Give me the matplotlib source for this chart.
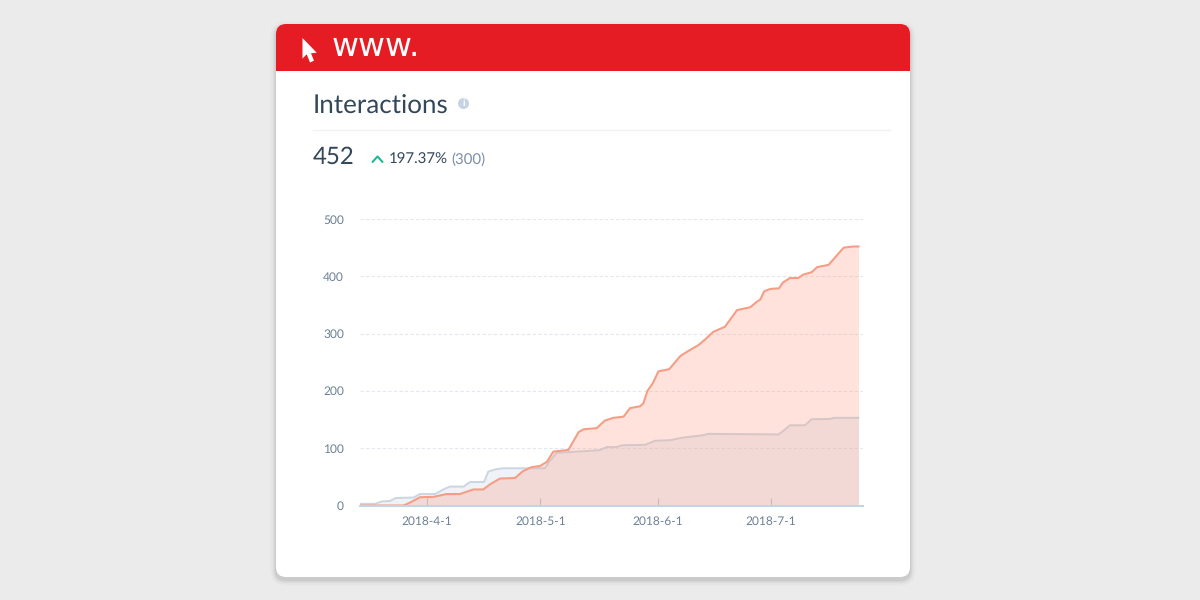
import matplotlib
matplotlib.use('Agg')
import matplotlib.pyplot as plt
from matplotlib.patches import FancyBboxPatch, Polygon, Circle, Rectangle

plt.rcParams['font.family'] = ['Lato', 'DejaVu Sans']
plt.rcParams['text.hinting'] = 'no_hinting'
plt.rcParams['text.hinting_factor'] = 1

# days counted from 2018-4-1
current_days = [-17.7, -6.2, -4.5, -1.8, 1.7, 5.2, 8.7, 12.3, 14.9, 16.7, 19.3, 23.3, 25.4, 27.7, 29.9,
                31.7, 33.4, 37.4, 40.1, 41.4, 44.9, 47.0, 49.3, 52.0, 53.7, 56.3, 57.2, 58.3, 59.7, 61.2,
                64.1, 67.0, 68.7, 71.8, 73.6, 75.7, 78.8, 82.0, 85.5, 87.3, 88.1, 89.2, 90.8, 93.1, 94.1,
                96.0, 98.2, 99.5, 101.7, 103.2, 106.2, 110.2, 112.8, 114.1]
current_vals = [0, 0, 5, 14.5, 15, 20, 20, 28, 28, 37, 47, 48, 60, 67, 69,
                76, 94, 97, 128, 133, 135, 148, 153, 155, 170, 173, 178, 200, 213, 234,
                238, 261, 268, 280, 290, 303, 312, 341, 346, 356, 359, 374, 378, 379, 389,
                397, 397, 403, 407, 416, 420, 450, 452, 452]

previous_days = [-17.7, -13.7, -12.0, -9.7, -8.3, -3.5, -1.8, 2.2, 4.3, 6.1, 9.7, 11.4, 15.1, 16.2, 18.0,
                 20.2, 31.2, 32.3, 34.3, 45.7, 47.5, 50.2, 51.5, 57.7, 60.3, 64.3, 67.8, 73.1, 74.3, 92.9,
                 93.8, 96.0, 100.0, 101.7, 106.6, 107.6, 114.1]
previous_vals = [3, 3, 7, 8, 13, 14, 20, 20, 28, 33, 33, 41, 41, 59, 63,
                 65, 65, 76, 92, 96.5, 102, 102, 105, 106, 113, 114, 118.6, 122.7, 125, 124,
                 128, 140, 140, 150.6, 151, 153, 153]

y_ticks = [0, 100, 200, 300, 400, 500]
x_tick_days = [0, 30, 61, 91]
x_tick_labels = ['2018-4-1', '2018-5-1', '2018-6-1', '2018-7-1']

title = 'Interactions'
total = '452'
change = '197.37%'
previous_total = '(300)'

W, H = 1200, 600
fig = plt.figure(figsize=(W / 100, H / 100), dpi=100, facecolor='#ebebeb')

# card and header, in pixel coordinates
bg = fig.add_axes([0, 0, 1, 1])
bg.set_xlim(0, W)
bg.set_ylim(H, 0)
bg.axis('off')


def rounded(x0, y0, x1, y1, r, **kw):
    return FancyBboxPatch((x0 + r, y0 + r), x1 - x0 - 2 * r, y1 - y0 - 2 * r,
                          boxstyle=f'round,pad={r},rounding_size={r}', linewidth=0, **kw)


# soft shadow
for grow, alpha in [(6, 0.012), (4.5, 0.018), (3, 0.026), (2, 0.034), (1, 0.04)]:
    bg.add_patch(rounded(276 - grow, 24 + 3 - grow, 910 + grow, 577 + 3 + grow, 10 + grow,
                         facecolor='black', alpha=alpha))
card = rounded(276, 24, 910, 577, 10, facecolor='white')
bg.add_patch(card)
header = Rectangle((276, 24), 634, 47, facecolor='#e51c23', linewidth=0)
bg.add_patch(header)
header.set_clip_path(card)

bg.add_patch(Polygon([(302.5, 38), (302.5, 58.5), (306.7, 54.3), (310, 62.5), (314, 60.7),
                      (311, 53.3), (316.7, 52.7)], closed=True, facecolor='white', linewidth=0))
bg.text(332, 55.5, 'www.', color='white', fontsize=23.8, va='baseline', ha='left', family='DejaVu Sans')

bg.text(313, 106.5, title, color='#33475b', fontsize=18.8, va='center', ha='left')
bg.add_patch(Circle((463.5, 103.5), 5.5, facecolor='#c5d3e4', linewidth=0))
bg.text(463.5, 103.5, 'i', color='white', fontsize=7, va='center', ha='center', fontweight='bold')
bg.plot([313, 890], [130, 130], color='#f0f2f5', lw=1)

bg.text(313, 157, total, color='#33475b', fontsize=17.3, va='center', ha='left')
bg.plot([372.5, 377.5, 382.5], [162, 156.5, 162], color='#1fb99a', lw=1.5, solid_capstyle='round')
bg.text(389, 159.5, change, color='#33475b', fontsize=10.9, va='center', ha='left')
bg.text(451, 159.5, previous_total, color='#7c8fa8', fontsize=10.9, va='center', ha='left')

# chart
ax = fig.add_axes([360 / W, 1 - 505.5 / H, (863 - 360) / W, (505.5 - 219) / H])
ax.patch.set_alpha(0)
ax.set_xlim(-17.7, 115.3)
ax.set_ylim(0, 500)

ax.set_yticks(y_ticks)
ax.set_xticks(x_tick_days)
ax.set_xticklabels(x_tick_labels)
ax.grid(axis='y', color='#e3e8ee', lw=0.8, ls=(0, (3, 2)), zorder=0)
ax.tick_params(axis='y', length=0, pad=11.5, labelsize=8.6, labelcolor='#6d8199')
ax.tick_params(axis='x', direction='in', length=6, width=0.8, color='#b5bdc8', pad=7.7,
               labelsize=8.6, labelcolor='#6d8199')
for side in ['top', 'left', 'right']:
    ax.spines[side].set_visible(False)
ax.spines['bottom'].set_color('#c5d3e4')
ax.spines['bottom'].set_linewidth(1.5)
ax.spines['bottom'].set_zorder(6)

ax.fill_between(previous_days, previous_vals, 0, color='#cbd6e2', alpha=0.3, linewidth=0, zorder=2)
ax.plot(previous_days, previous_vals, color='#cbd6e2', lw=1.4, zorder=3)
ax.fill_between(current_days, current_vals, 0, color='#fd9a80', alpha=0.28, linewidth=0, zorder=4)
ax.plot(current_days, current_vals, color='#f59e85', lw=1.5, zorder=5)

fig.savefig('out.png', dpi=100, facecolor=fig.get_facecolor())
